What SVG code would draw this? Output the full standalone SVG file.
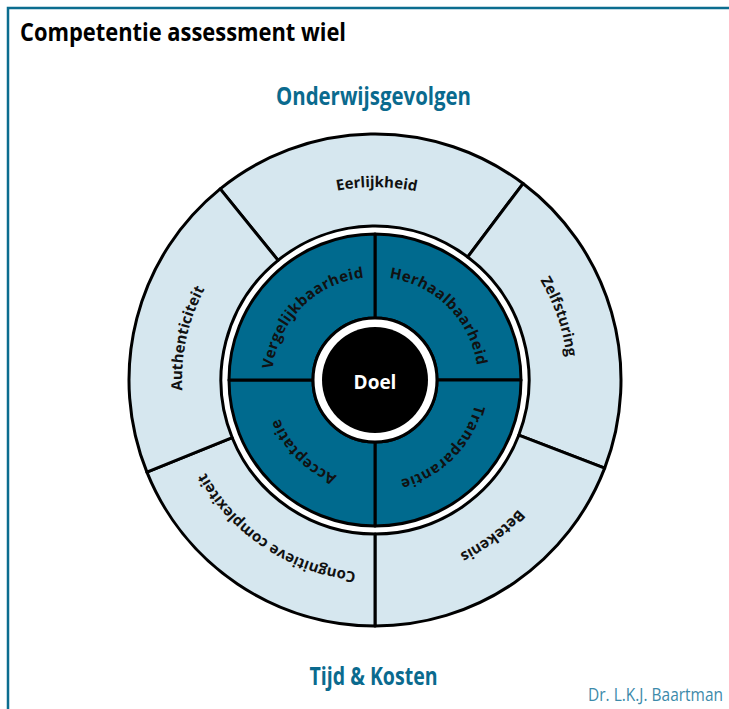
<svg xmlns="http://www.w3.org/2000/svg" width="729" height="709" viewBox="0 0 729 709">
<style>
.seg{fill:#d6e7ef;stroke:#000;stroke-width:3;stroke-linejoin:round}
.quad{fill:#006a8e;stroke:#000;stroke-width:3;stroke-linejoin:round}
.ol{font-family:"Open Sans","Liberation Sans",sans-serif;font-weight:700;font-size:15px;fill:#111}
.il{font-family:"Open Sans","Liberation Sans",sans-serif;font-weight:700;font-size:15px;fill:#111;letter-spacing:0.4px}
.head{font-family:"Open Sans","Liberation Sans",sans-serif;font-weight:700;font-size:24.5px}
</style>
<defs>
<path id="oB" d="M 375 573 A 193 193 0 0 1 375 187 A 193 193 0 0 1 375 573"/>
<path id="oT" d="M 375 187 A 193 193 0 0 1 375 573 A 193 193 0 0 1 375 187"/>
<path id="iB" d="M 375 483 A 103 103 0 0 1 375 277 A 103 103 0 0 1 375 483"/>
<path id="iT" d="M 375 277 A 103 103 0 0 1 375 483 A 103 103 0 0 1 375 277"/>
</defs>
<rect width="729" height="709" fill="#fff"/>
<rect id="frame" x="8" y="8" width="800" height="800" fill="none" stroke="#0b6d8f" stroke-width="2.5"/>
<text class="head" x="20" y="41" fill="#000" textLength="326" lengthAdjust="spacingAndGlyphs">Competentie assessment wiel</text>
<text class="head" x="276" y="104.5" fill="#0a6a8e" textLength="195" lengthAdjust="spacingAndGlyphs">Onderwijsgevolgen</text>
<text class="head" x="309.5" y="684.5" fill="#0a6a8e" textLength="128" lengthAdjust="spacingAndGlyphs">Tijd &amp; Kosten</text>
<text x="588" y="700.5" font-family="'Open Sans','Liberation Sans',sans-serif" font-size="18.5" fill="#3d8aaa" textLength="135" lengthAdjust="spacingAndGlyphs">Dr. L.K.J. Baartman</text>

<g id="eerlijkheid">
<path class="seg" d="M 220.19 188.82 A 246 246 0 0 1 523.05 183.54 L 467.68 257.01 A 154 154 0 0 0 278.08 260.32 Z"/>
<text class="ol"><textPath href="#oB" startOffset="50.14%" text-anchor="middle">Eerlijkheid</textPath></text>
</g>
<g id="zelfsturing">
<path class="seg" d="M 523.05 183.54 A 246 246 0 0 1 604.66 468.16 L 518.77 435.19 A 154 154 0 0 0 467.68 257.01 Z"/>
<text class="ol"><textPath href="#oB" startOffset="69.72%" text-anchor="middle">Zelfsturing</textPath></text>
</g>
<g id="betekenis">
<path class="seg" d="M 604.66 468.16 A 246 246 0 0 1 375 626 L 375 534 A 154 154 0 0 0 518.77 435.19 Z"/>
<text class="ol"><textPath href="#oT" startOffset="39.72%" text-anchor="middle">Betekenis</textPath></text>
</g>
<g id="cognitieve-complexiteit">
<path class="seg" d="M 375 626 A 246 246 0 0 1 146.91 472.15 L 232.21 437.69 A 154 154 0 0 0 375 534 Z"/>
<text class="ol"><textPath href="#oT" startOffset="59.31%" text-anchor="middle">Congnitieve complexiteit</textPath></text>
</g>
<g id="authenticiteit">
<path class="seg" d="M 146.91 472.15 A 246 246 0 0 1 220.19 188.82 L 278.08 260.32 A 154 154 0 0 0 232.21 437.69 Z"/>
<text class="ol"><textPath href="#oB" startOffset="28.47%" text-anchor="middle">Authenticiteit</textPath></text>
</g>

<g id="herhaalbaarheid">
<path class="quad" d="M 375 234 A 146 146 0 0 1 521 380 L 437 380 A 62 62 0 0 0 375 318 Z"/>
<text class="il"><textPath href="#iB" startOffset="62.5%" text-anchor="middle">Herhaalbaarheid</textPath></text>
</g>
<g id="transparantie">
<path class="quad" d="M 521 380 A 146 146 0 0 1 375 526 L 375 442 A 62 62 0 0 0 437 380 Z"/>
<text class="il"><textPath href="#iT" startOffset="37.5%" text-anchor="middle">Transparantie</textPath></text>
</g>
<g id="acceptatie">
<path class="quad" d="M 375 526 A 146 146 0 0 1 229 380 L 313 380 A 62 62 0 0 0 375 442 Z"/>
<text class="il"><textPath href="#iT" startOffset="62.5%" text-anchor="middle">Acceptatie</textPath></text>
</g>
<g id="vergelijkbaarheid">
<path class="quad" d="M 229 380 A 146 146 0 0 1 375 234 L 375 318 A 62 62 0 0 0 313 380 Z"/>
<text class="il"><textPath href="#iB" startOffset="37.5%" text-anchor="middle">Vergelijkbaarheid</textPath></text>
</g>

<g id="doel">
<circle cx="375" cy="380" r="62" fill="#fff" stroke="#000" stroke-width="3"/>
<circle cx="375" cy="380" r="53" fill="#000"/>
<text x="375" y="389" text-anchor="middle" font-family="'Open Sans','Liberation Sans',sans-serif" font-weight="700" font-size="19" fill="#fff">Doel</text>
</g>
</svg>
